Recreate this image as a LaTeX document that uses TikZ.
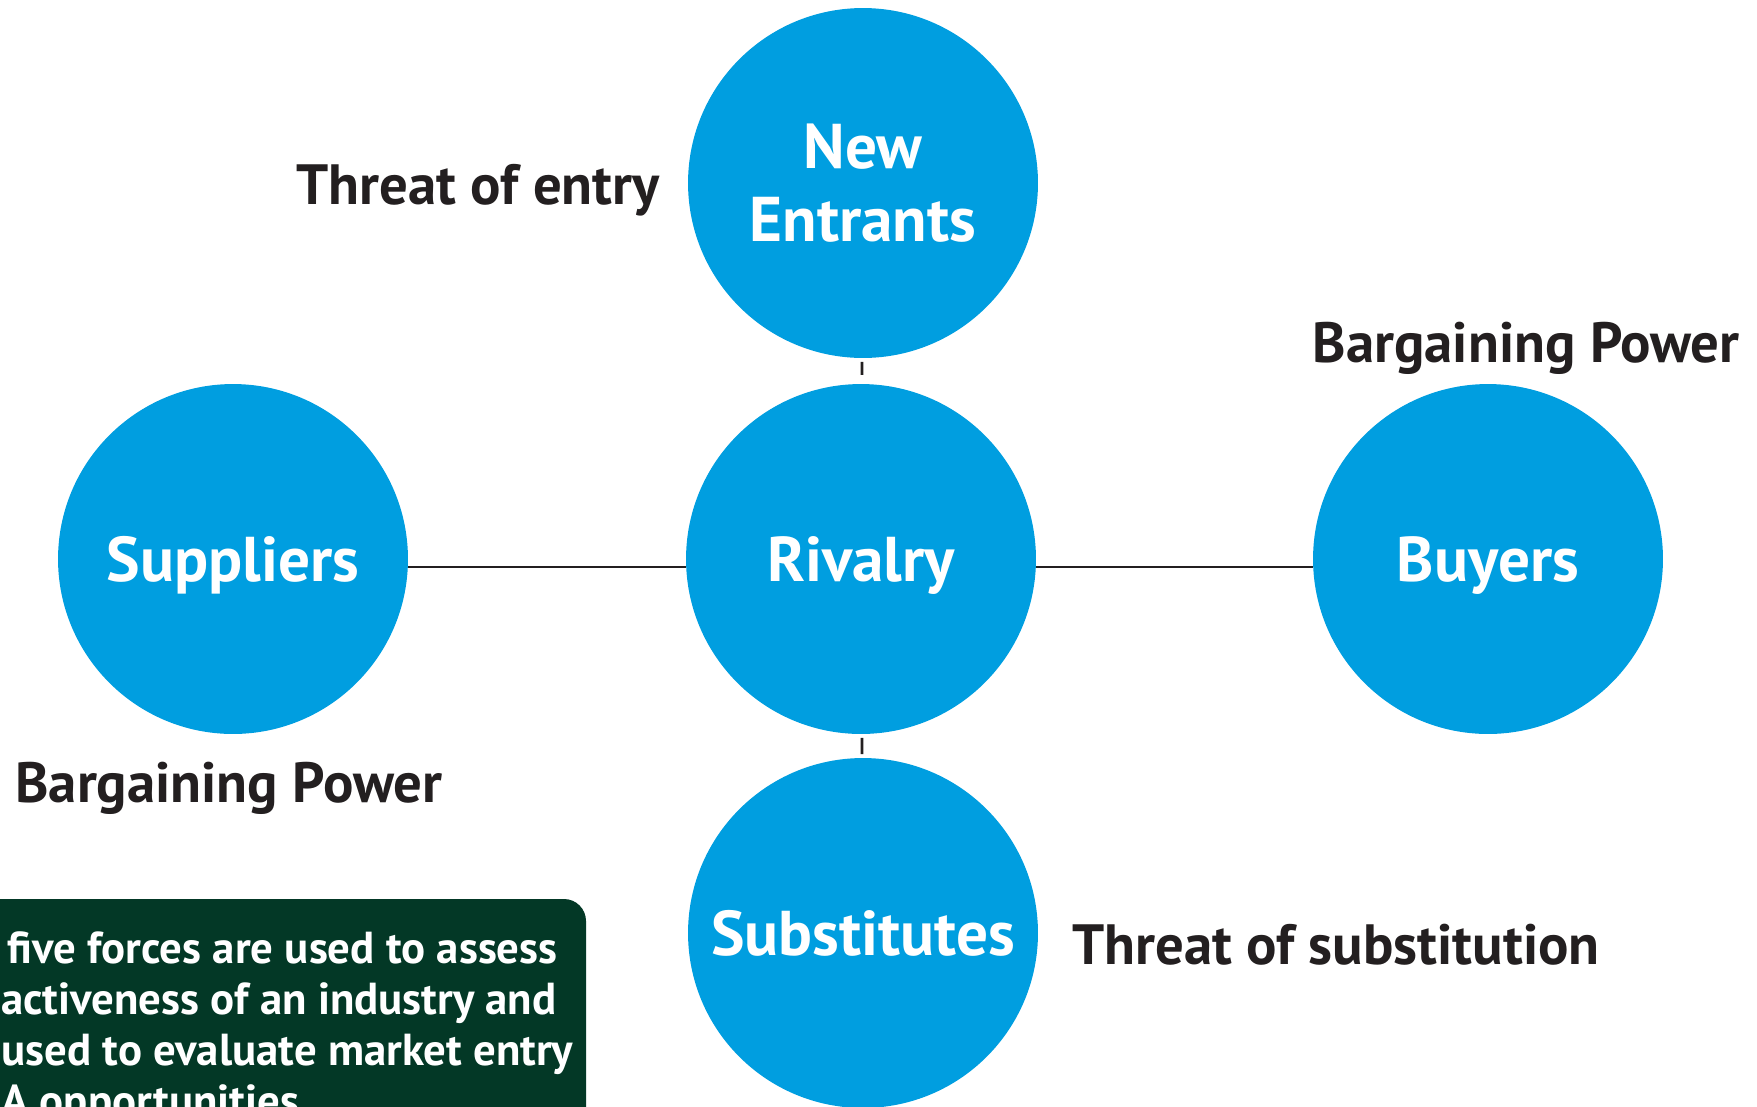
\documentclass[tikz,border=0pt]{standalone}
\usepackage{fontspec}
\setmainfont{PT Sans}
\definecolor{forceblue}{RGB}{0,158,224}
\definecolor{notegreen}{RGB}{3,56,38}
\definecolor{inkdark}{RGB}{35,31,32}
\tikzstyle{force}=[
        circle,
        fill=forceblue,
        minimum size=7cm,
        inner sep=0pt,
        text=white,
        text depth=0pt,
        align=center,
        font=\bfseries\fontsize{36}{41.5}\selectfont
]
\tikzstyle{threat}=[
        text=inkdark,
        inner sep=0pt,
        font=\bfseries\fontsize{32.3}{36}\selectfont
]
\tikzstyle{link}=[
        draw=inkdark,
        line width=1.6pt
]

\begin{document}
\begin{tikzpicture}[x=0.02cm,y=-0.02cm]
                        \clip (0,0) rectangle (1757,1106);

                        \node[force] (new) at (863,183) {New\\Entrants};
                        \node[force] (riv) at (861,559) {Rivalry};
                        \node[force] (sup) at (233,559) {Suppliers};
                        \node[force] (buy) at (1488,559) {Buyers};
                        \node[force] (sub) at (863,933) {Substitutes};

                        \node[threat, anchor=base east] (entry) at (660,204) {Threat of entry};
                        \node[threat, anchor=base east] (powbuy) at (1740,362) {Bargaining Power};
                        \node[threat, anchor=base west] (powsup) at (15,802) {Bargaining Power};
                        \node[threat, anchor=base west] (subst) at (1072,964) {Threat of substitution};

                        \draw[link, shorten <=2, shorten >=5] (new) -- (riv);
                        \draw[link, shorten <=2, shorten >=2] (riv) -- (sub);
                        \draw[link] ([yshift=-0.16cm]sup.east) -- ([yshift=-0.16cm]riv.west);
                        \draw[link] ([yshift=-0.16cm]riv.east) -- ([yshift=-0.16cm]buy.west);

                        \fill[notegreen, rounded corners=0.44cm] (-60,899) rectangle (586,1200);
                        \node[anchor=north west, inner sep=0pt, align=left, text=white,
                              font=\bfseries\fontsize{25.5}{29}\selectfont] (note) at (1,931)
                              {\hspace{0.12cm}five forces are used to assess\\
                               activeness of an industry and\\
                               used to evaluate market entry\\
                               A opportunities};
                    \end{tikzpicture}
\end{document}
